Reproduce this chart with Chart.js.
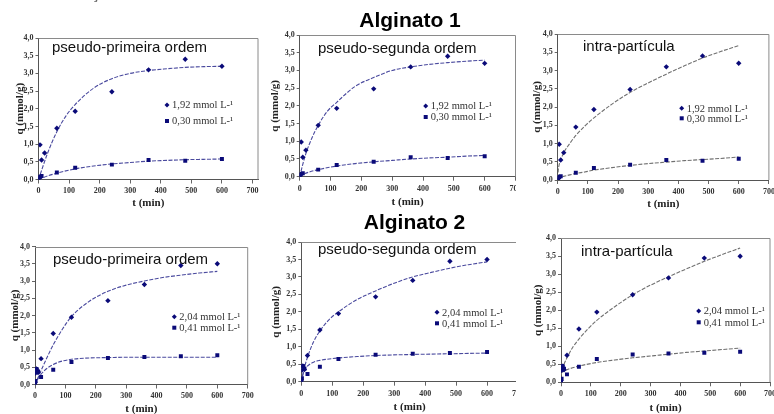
<!DOCTYPE html>
<html><head><meta charset="utf-8">
<script src="https://cdn.jsdelivr.net/npm/chart.js@4.4.0/dist/chart.umd.min.js"></script>
<style>
html,body{margin:0;padding:0;background:#fff;overflow:hidden;width:774px;height:414px;position:relative}
canvas{position:absolute;background:#fff}
</style></head><body>
<canvas id="c1"></canvas><canvas id="c2"></canvas><canvas id="c3"></canvas>
<canvas id="c4"></canvas><canvas id="c5"></canvas><canvas id="c6"></canvas>
<script>
// ---------- text ----------
const PAGE_TITLE = 'Cinética de Adsorção';
const HEADINGS = ['Alginato 1', 'Alginato 2'];
const MODELS = ['pseudo-primeira ordem', 'pseudo-segunda ordem', 'intra-partícula'];
const X_TITLE = 't (min)';
const Y_TITLE = 'q (mmol/g)';
const X_TICK_LABELS = ['0','100','200','300','400','500','600','700'];
const Y_TICK_LABELS = ['0,0','0,5','1,0','1,5','2,0','2,5','3,0','3,5','4,0'];

// ---------- Alginato 1 measured points ----------
const A1_LABELS = ['1,92 mmol L-¹', '0,30 mmol L-¹'];
const A1_HIGH_T = [0, 5, 10, 20, 60, 120, 240, 360, 480, 600];
const A1_HIGH_Q = [0.05, 0.98, 0.55, 0.75, 1.45, 1.93, 2.48, 3.10, 3.40, 3.20];
const A1_LOW_T  = [0, 2, 5, 10, 60, 120, 240, 360, 480, 600];
const A1_LOW_Q  = [0.00, 0.05, 0.08, 0.10, 0.20, 0.33, 0.42, 0.55, 0.53, 0.58];

// ---------- Alginato 2 measured points ----------
const A2_LABELS = ['2,04 mmol L-¹', '0,41 mmol L-¹'];
const A2_HIGH_T = [0, 2, 5, 10, 20, 60, 120, 240, 360, 480, 600];
const A2_HIGH_Q = [0.05, 0.33, 0.45, 0.35, 0.75, 1.48, 1.95, 2.43, 2.90, 3.45, 3.50];
const A2_LOW_T  = [0, 2, 5, 10, 20, 60, 120, 240, 360, 480, 600];
const A2_LOW_Q  = [0.00, 0.10, 0.45, 0.38, 0.22, 0.43, 0.65, 0.77, 0.80, 0.82, 0.85];

// ---------- fitted curves ----------
const P1_FIT_HIGH_T = [0,30,60,90,120,180,240,300,360,420,480,540,600];
const P1_FIT_HIGH_Q = [0,0.75,1.35,1.8,2.12,2.58,2.85,3.0,3.08,3.13,3.17,3.19,3.2];
const P1_FIT_LOW_T  = [0,30,60,120,180,240,300,360,420,480,540,600];
const P1_FIT_LOW_Q  = [0,0.1,0.18,0.3,0.38,0.44,0.48,0.52,0.54,0.56,0.57,0.58];

const P2_FIT_HIGH_T = [0,10,20,40,60,90,120,180,240,300,360,420,480,540,600];
const P2_FIT_HIGH_Q = [0,0.35,0.65,1.1,1.45,1.85,2.1,2.55,2.8,3.0,3.1,3.17,3.22,3.26,3.29];
const P2_FIT_LOW_T  = [0,10,30,60,120,180,240,300,360,420,480,540,600];
const P2_FIT_LOW_Q  = [0,0.06,0.13,0.2,0.3,0.37,0.42,0.46,0.5,0.53,0.55,0.58,0.6];

const P3_FIT_HIGH_T = [0,2,5,10,20,40,60,90,120,180,240,300,360,420,480,540,600];
const P3_FIT_HIGH_Q = [0.05,0.28,0.42,0.55,0.75,1.0,1.22,1.48,1.7,2.08,2.4,2.66,2.9,3.13,3.34,3.52,3.68];
const P3_FIT_LOW_T  = [0,2,5,10,20,40,60,90,120,180,240,300,360,420,480,540,600];
const P3_FIT_LOW_Q  = [0.02,0.04,0.06,0.08,0.1,0.14,0.18,0.22,0.27,0.34,0.4,0.45,0.49,0.53,0.56,0.59,0.63];

const P4_FIT_HIGH_T = [0,30,60,90,120,180,240,300,360,420,480,540,600];
const P4_FIT_HIGH_Q = [0,0.6,1.15,1.6,1.97,2.42,2.7,2.88,3.0,3.1,3.17,3.23,3.28];
const P4_FIT_LOW_T  = [0,10,20,40,60,90,120,180,240,300,360,480,600];
const P4_FIT_LOW_Q  = [0,0.17,0.3,0.47,0.58,0.68,0.73,0.77,0.78,0.79,0.79,0.79,0.79];

const P5_FIT_HIGH_T = [0,10,20,40,60,90,120,180,240,300,360,420,480,540,600];
const P5_FIT_HIGH_Q = [0,0.4,0.7,1.15,1.45,1.78,2.0,2.35,2.6,2.82,3.0,3.13,3.25,3.35,3.43];
const P5_FIT_LOW_T  = [0,5,10,20,40,60,90,120,180,240,360,480,600];
const P5_FIT_LOW_Q  = [0,0.2,0.33,0.45,0.56,0.61,0.65,0.68,0.72,0.75,0.78,0.8,0.82];

const P6_FIT_HIGH_T = [0,2,5,10,20,40,60,90,120,180,240,300,360,420,480,540,600];
const P6_FIT_HIGH_Q = [0.2,0.3,0.4,0.5,0.68,0.98,1.2,1.48,1.72,2.1,2.43,2.7,2.93,3.15,3.36,3.55,3.73];
const P6_FIT_LOW_T  = [0,5,10,20,60,120,180,240,300,360,420,480,540,600];
const P6_FIT_LOW_Q  = [0.25,0.29,0.31,0.35,0.45,0.55,0.62,0.68,0.73,0.78,0.83,0.87,0.91,0.95];

// ---------- styles ----------
const MARK = '#0a0a78';
const FIT_BLUE = '#4a4a9e';
const FIT_GRAY = '#707070';
const SANS = '"Liberation Sans", Arial, sans-serif';
const SERIF = '"Liberation Serif", "Times New Roman", serif';

const pts = (t, q) => t.map((v, i) => ({x: v, y: q[i]}));

const PANELS = [
  {id:'c1', cv:[0,0,262,212], area:{l:38.5,r:258,t:38,b:179.5}, xmax:718, YW:25, XH:30,
   model:0, mpos:[52,48], leg:{x:167,y1:105,y2:121}, alg:1, lc:FIT_BLUE,
   fh:[P1_FIT_HIGH_T,P1_FIT_HIGH_Q], fl:[P1_FIT_LOW_T,P1_FIT_LOW_Q], top:true},
  {id:'c2', cv:[262,0,260,212], area:{l:299.7,r:515.5,t:35,b:176.7}, xmax:700, YW:31, XH:31.6,
   model:1, mpos:[318,49], leg:{x:425.7,y1:106,y2:117}, alg:1, lc:FIT_BLUE, heading:[0,410,21.7],
   fh:[P2_FIT_HIGH_T,P2_FIT_HIGH_Q], fl:[P2_FIT_LOW_T,P2_FIT_LOW_Q]},
  {id:'c3', cv:[516,0,258,212], area:{l:557.7,r:768.9,t:34,b:180}, xmax:700, YW:27.3, XH:30.6,
   model:2, mpos:[583,46.7], leg:{x:681.7,y1:108.3,y2:118.3}, alg:1, lc:FIT_GRAY,
   fh:[P3_FIT_HIGH_T,P3_FIT_HIGH_Q], fl:[P3_FIT_LOW_T,P3_FIT_LOW_Q]},
  {id:'c4', cv:[0,212,262,208], area:{l:35,r:247.7,t:246.5,b:384.5}, xmax:700, YW:26.6, XH:31.1,
   model:0, mpos:[53,260], leg:{x:174.3,y1:316.7,y2:327.7}, alg:2, lc:FIT_BLUE,
   fh:[P4_FIT_HIGH_T,P4_FIT_HIGH_Q], fl:[P4_FIT_LOW_T,P4_FIT_LOW_Q]},
  {id:'c5', cv:[262,212,260,208], area:{l:301.3,r:519,t:242,b:381.7}, xmax:700, YW:31.6, XH:31.6,
   model:1, mpos:[318,250], leg:{x:437,y1:312.3,y2:323.3}, alg:2, lc:FIT_BLUE, heading:[1,414.5,223.3],
   fh:[P5_FIT_HIGH_T,P5_FIT_HIGH_Q], fl:[P5_FIT_LOW_T,P5_FIT_LOW_Q]},
  {id:'c6', cv:[516,212,258,208], area:{l:561,r:774,t:238.3,b:382.3}, xmax:700, YW:29.9, XH:32.6,
   model:2, mpos:[581,251.7], leg:{x:698.7,y1:311,y2:322.3}, alg:2, lc:FIT_GRAY,
   fh:[P6_FIT_HIGH_T,P6_FIT_HIGH_Q], fl:[P6_FIT_LOW_T,P6_FIT_LOW_Q]},
];

const decor = {
  id: 'decor',
  afterDraw(chart, args, o) {
    const p = o.panel, ctx = chart.ctx, ca = chart.chartArea;
    const ox = p.cv[0], oy = p.cv[1];
    ctx.save();
    // frame top & right
    ctx.strokeStyle = '#8a8a8a'; ctx.lineWidth = 1;
    ctx.beginPath();
    ctx.moveTo(ca.left, Math.round(ca.top) + 0.5);
    ctx.lineTo(ca.right, Math.round(ca.top) + 0.5);
    ctx.lineTo(ca.right, ca.bottom);
    ctx.stroke();
    // model label
    ctx.fillStyle = '#111';
    ctx.font = '15px ' + SANS;
    ctx.textBaseline = 'middle'; ctx.textAlign = 'left';
    ctx.fillText(MODELS[p.model], p.mpos[0] - ox, p.mpos[1] - oy);
    // legend
    const labels = p.alg === 1 ? A1_LABELS : A2_LABELS;
    ctx.font = '10.5px ' + SERIF;
    const rows = [p.leg.y1, p.leg.y2];
    rows.forEach((y, i) => {
      const sx = p.leg.x - ox, sy = y - oy;
      ctx.fillStyle = MARK;
      ctx.beginPath();
      if (i === 0) {
        ctx.moveTo(sx, sy - 2.5); ctx.lineTo(sx + 2.5, sy); ctx.lineTo(sx, sy + 2.5); ctx.lineTo(sx - 2.5, sy);
        ctx.closePath(); ctx.fill();
      } else {
        ctx.fillRect(sx - 2, sy - 2, 4, 4);
      }
      ctx.fillStyle = '#333';
      ctx.fillText(labels[i], sx + 5, sy + 0.5);
    });
    // headings
    if (p.heading) {
      ctx.font = 'bold 21px ' + SANS;
      ctx.fillStyle = '#000';
      ctx.textAlign = 'center';
      ctx.fillText(HEADINGS[p.heading[0]], p.heading[1] - ox, p.heading[2] - oy);
    }
    if (p.top) {
      ctx.font = 'bold 15px ' + SANS;
      ctx.fillStyle = '#666';
      ctx.textAlign = 'left'; ctx.textBaseline = 'alphabetic';
      ctx.fillText(PAGE_TITLE, -36, -1);
    }
    ctx.restore();
  }
};

PANELS.forEach(p => {
  const cvs = document.getElementById(p.id);
  const [cx, cy, cw, ch] = p.cv;
  cvs.width = cw; cvs.height = ch;
  cvs.style.left = cx + 'px'; cvs.style.top = cy + 'px';
  cvs.style.width = cw + 'px'; cvs.style.height = ch + 'px';
  const a = p.area;
  const pad = {
    left: a.l - p.YW - cx,
    right: cx + cw - a.r,
    top: a.t - cy,
    bottom: cy + ch - (a.b + p.XH)
  };
  const hi = p.alg === 1 ? pts(A1_HIGH_T, A1_HIGH_Q) : pts(A2_HIGH_T, A2_HIGH_Q);
  const lo = p.alg === 1 ? pts(A1_LOW_T, A1_LOW_Q) : pts(A2_LOW_T, A2_LOW_Q);
  const labels = p.alg === 1 ? A1_LABELS : A2_LABELS;
  const fitDs = (d) => ({
    type: 'line', data: pts(d[0], d[1]), showLine: true, borderColor: p.lc, borderWidth: 1.1,
    borderDash: [4, 1.5], pointRadius: 0, fill: false, cubicInterpolationMode: 'monotone', order: 2
  });
  new Chart(cvs, {
    type: 'scatter',
    data: {
      datasets: [
        {label: labels[0], data: hi, pointStyle: 'rectRot', pointRadius: 2.7, backgroundColor: MARK, borderColor: MARK, borderWidth: 0, order: 1},
        {label: labels[1], data: lo, pointStyle: 'rect', pointRadius: 2.8, backgroundColor: MARK, borderColor: MARK, borderWidth: 0, order: 1},
        fitDs(p.fh),
        fitDs(p.fl)
      ]
    },
    options: {
      responsive: false, animation: false, devicePixelRatio: 1,
      layout: {padding: pad},
      plugins: {legend: {display: false}, tooltip: {enabled: false}, decor: {panel: p}},
      scales: {
        x: {
          type: 'linear', min: 0, max: p.xmax,
          ticks: {stepSize: 100, includeBounds: false, autoSkip: false, maxRotation: 0, padding: 3,
            color: '#333', font: {family: SERIF, size: 8, weight: 'bold'},
            callback: v => X_TICK_LABELS[Math.round(v / 100)]},
          grid: {display: true, drawOnChartArea: false, drawTicks: true, tickLength: 4, color: '#666'},
          border: {display: true, color: '#555', width: 1},
          title: {display: true, text: X_TITLE, color: '#222', padding: 0,
            font: {family: SERIF, size: 11, weight: 'bold'}},
          afterFit: s => { s.height = p.XH; s.paddingLeft = 0; s.paddingRight = 0; }
        },
        y: {
          type: 'linear', min: 0, max: 4,
          ticks: {stepSize: 0.5, autoSkip: false, padding: 2, color: '#333',
            font: {family: SERIF, size: 8, weight: 'bold'},
            callback: v => Y_TICK_LABELS[Math.round(v / 0.5)]},
          grid: {display: true, drawOnChartArea: false, drawTicks: true, tickLength: 3, color: '#666'},
          border: {display: true, color: '#555', width: 1},
          title: {display: true, text: Y_TITLE, color: '#222', padding: 0,
            font: {family: SERIF, size: 11, weight: 'bold'}},
          afterFit: s => { s.width = p.YW; s.paddingTop = 0; s.paddingBottom = 0; }
        }
      }
    },
    plugins: [decor]
  });
});
</script>
</body></html>
